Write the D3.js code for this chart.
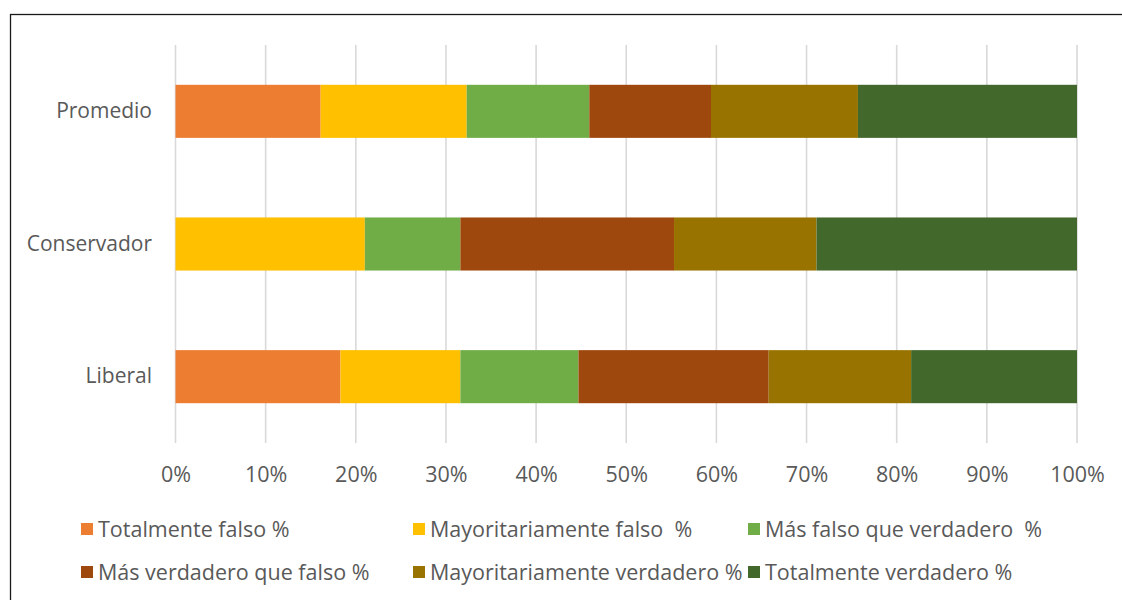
<!DOCTYPE html>
<html>
<head>
<meta charset="utf-8">
<script src="https://cdn.jsdelivr.net/npm/d3@7"></script>
<style>
  body { margin: 0; background: #fff; }
  text { font-family: "Open Sans", sans-serif; fill: #595959; }
</style>
</head>
<body>
<svg id="chart" width="1122" height="600"></svg>
<script>
var categories = ["Promedio", "Conservador", "Liberal"];
var series = [
  "Totalmente falso %",
  "Mayoritariamente falso  %",
  "Más falso que verdadero  %",
  "Más verdadero que falso %",
  "Mayoritariamente verdadero %",
  "Totalmente verdadero %"
];
var colors = ["#ED7D31", "#FFC000", "#70AD47", "#9E480E", "#997300", "#43682B"];

// one array per category, in the order of the series
var promedio    = [16.1, 16.2, 13.6, 13.5, 16.3, 24.3];
var conservador = [0.0, 21.0, 10.6, 23.7, 15.8, 28.9];
var liberal     = [18.3, 13.3, 13.1, 21.1, 15.8, 18.4];

var xTicks = [0, 10, 20, 30, 40, 50, 60, 70, 80, 90, 100];

var svg = d3.select("#chart");

// outer frame
svg.append("rect")
  .attr("x", 10.5).attr("y", 14.5)
  .attr("width", 1130).attr("height", 600)
  .attr("fill", "none").attr("stroke", "#1a1a1a").attr("stroke-width", 1.3);

var margin = {left: 175.5, right: 45, top: 45, bottom: 157};
var width = 1122 - margin.left - margin.right,
    height = 600 - margin.top - margin.bottom;

var g = svg.append("g").attr("transform", "translate(" + margin.left + "," + margin.top + ")");

var x = d3.scaleLinear().domain([0, 100]).range([0, width]);
var y = d3.scaleBand().domain(categories).range([0, height]).paddingInner(0.6).paddingOuter(0.3);

// gridlines
g.append("g").selectAll("line")
  .data(xTicks).enter().append("line")
  .attr("x1", function(d){ return x(d); })
  .attr("x2", function(d){ return x(d); })
  .attr("y1", 0).attr("y2", height)
  .attr("stroke", "#D9D9D9").attr("stroke-width", 1.6);

var rows = categories.map(function(c, i){
  var vals = [promedio, conservador, liberal][i];
  var row = {cat: c};
  series.forEach(function(s, j){ row[s] = vals[j]; });
  return row;
});

var stacked = d3.stack().keys(series)(rows);

g.append("g").selectAll("g")
  .data(stacked).enter().append("g")
  .attr("fill", function(d, i){ return colors[i]; })
  .selectAll("rect")
  .data(function(d){ return d; })
  .enter().append("rect")
  .attr("x", function(d){ return x(d[0]); })
  .attr("width", function(d){ return x(d[1]) - x(d[0]); })
  .attr("y", function(d){ return y(d.data.cat); })
  .attr("height", y.bandwidth());

// x axis labels
var xAxis = g.append("g")
  .attr("transform", "translate(0," + height + ")")
  .call(d3.axisBottom(x).tickValues(xTicks).tickSize(0).tickPadding(24)
    .tickFormat(function(d){ return d + "%"; }));
xAxis.select(".domain").remove();
xAxis.selectAll("text").attr("font-size", 21.5).attr("fill", "#595959")
  .style("font-family", "'Open Sans', sans-serif");

// y axis labels
var yAxis = g.append("g")
  .call(d3.axisLeft(y).tickSize(0).tickPadding(23.5));
yAxis.select(".domain").remove();
yAxis.selectAll("text").attr("font-size", 21).attr("fill", "#595959")
  .style("font-family", "'Open Sans', sans-serif");

// legend
var legendX = [81, 413, 748];
var legendY = [523, 566];
var legend = svg.append("g").selectAll("g")
  .data(series).enter().append("g")
  .attr("transform", function(d, i){
    return "translate(" + legendX[i % 3] + "," + legendY[Math.floor(i / 3)] + ")";
  });
legend.append("rect")
  .attr("x", 0).attr("y", 0).attr("width", 12).attr("height", 12)
  .attr("fill", function(d, i){ return colors[i]; });
legend.append("text")
  .attr("x", 17).attr("y", 13.5)
  .attr("font-size", 21.5)
  .style("white-space", "pre")
  .attr("xml:space", "preserve")
  .text(function(d){ return d; });
</script>
</body>
</html>
